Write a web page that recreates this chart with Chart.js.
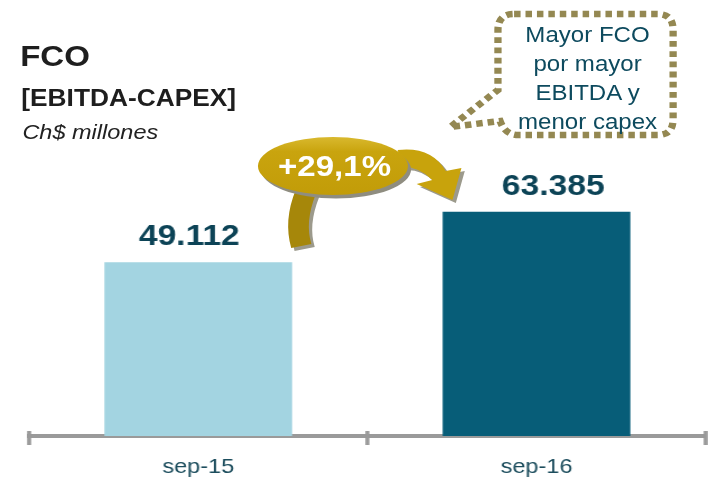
<!DOCTYPE html>
<html lang="es">
<head>
<meta charset="UTF-8">
<title>FCO</title>
<script src="https://cdn.jsdelivr.net/npm/chart.js"></script>
<style>
  html, body { margin: 0; padding: 0; background: #fff; overflow: hidden; }
  body { width: 708px; height: 479px; }
  /* the original slide is stretched a bit sideways, so the whole drawing is too */
  #stage { position: relative; width: 632px; height: 479px; transform: scaleX(1.12); transform-origin: 0 0; }
  #chart { position: absolute; left: 0; top: 0; }
  #deco { position: absolute; left: 0; top: 0; pointer-events: none; font-family: "Liberation Sans", Arial, sans-serif; }
</style>
</head>
<body>
<div id="stage">
  <canvas id="chart" width="632" height="479"></canvas>
  <svg id="deco" width="632" height="479" viewBox="0 0 632 479">
    <defs>
      <linearGradient id="gold" x1="0" y1="0" x2="0" y2="1">
        <stop offset="0" stop-color="#d9b92e"/>
        <stop offset="0.25" stop-color="#c9a40e"/>
        <stop offset="1" stop-color="#c29c08"/>
      </linearGradient>
    </defs>

    <!-- titles -->
    <text x="18" y="66" font-size="29.5" font-weight="bold" fill="#1e1e1e" id="t1"></text>
    <text x="19" y="106" font-size="23.5" font-weight="bold" fill="#1e1e1e" id="t2"></text>
    <text x="20" y="139" font-size="21" font-style="italic" fill="#222" id="t3"></text>

    <!-- growth arrow -->
    <path d="M 267,193 Q 256,223 263,251 L 281,247 Q 275,225 285,197 Z" fill="#9c9a8c"/>
    <path d="M 264,190 Q 253,220 260,248 L 278,244 Q 272,222 282,194 Z" fill="#a6870a"/>
    <path d="M 358,153 Q 388,149 401,174 L 415,171 L 407,203 L 375,187 L 389,183 Q 378,170 363,170 Z" fill="#9c9a8c"/>
    <path d="M 355,150 Q 385,146 398,171 L 412,168 L 404,200 L 372,184 L 386,180 Q 375,167 360,167 Z" fill="#c8a30c"/>
    <ellipse cx="300" cy="169.5" rx="67" ry="29" fill="#8f8d80"/>
    <ellipse cx="297.3" cy="166" rx="67" ry="29" fill="url(#gold)"/>
    <text x="298.7" y="176" font-size="29.5" font-weight="bold" fill="#ffffff" text-anchor="middle" id="chg"></text>

    <!-- callout -->
    <path d="M 459,14 H 587 Q 601,14 601,30 V 119 Q 601,135 587,135 H 463 Q 451,135 446.5,121 L 402,127 L 444.6,90 V 30 Q 444.6,14 459,14 Z"
          fill="none" stroke="#948852" stroke-width="6.5" stroke-dasharray="5.8 4.4"/>
    <g id="callout" font-size="21.5" fill="#0d4a5e" text-anchor="middle"></g>
  </svg>
</div>
<script>
// data
var categories = ["sep-15", "sep-16"];
var fcoValues = [49112, 63385];
var barColors = ["#a3d4e1", "#075d78"];
var changeLabel = "+29,1%";
var titleLines = ["FCO", "[EBITDA-CAPEX]", "Ch$ millones"];
var calloutLines = ["Mayor FCO", "por mayor", "EBITDA y", "menor capex"];

// value labels sit a little off-centre in the reference
var labelShift = [-8, 15];
var fontFamily = '"Liberation Sans", Arial, sans-serif';

document.getElementById("t1").textContent = titleLines[0];
document.getElementById("t2").textContent = titleLines[1];
document.getElementById("t3").textContent = titleLines[2];
document.getElementById("chg").textContent = changeLabel;

var callout = document.getElementById("callout");
calloutLines.forEach(function(line, i) {
    var t = document.createElementNS("http://www.w3.org/2000/svg", "text");
    t.setAttribute("x", 524.6);
    t.setAttribute("y", 42 + i * 29);
    t.textContent = line;
    callout.appendChild(t);
});

function formatThousands(v) {
    return String(v).replace(/\B(?=(\d{3})+(?!\d))/g, ".");
}

// numbers above the bars
var valueLabels = {
    id: "valueLabels",
    afterDatasetsDraw: function(chart) {
        var ctx = chart.ctx;
        var meta = chart.getDatasetMeta(0);
        ctx.save();
        ctx.font = "bold 30px " + fontFamily;
        ctx.fillStyle = "#0c4356";
        ctx.textAlign = "center";
        ctx.textBaseline = "alphabetic";
        meta.data.forEach(function(bar, i) {
            ctx.fillText(formatThousands(fcoValues[i]), bar.x + labelShift[i], bar.y - 17);
        });
        ctx.restore();
    }
};

// short tick marks crossing the axis line at the category edges
var axisTicks = {
    id: "axisTicks",
    afterDraw: function(chart) {
        var ctx = chart.ctx;
        var area = chart.chartArea;
        var x = chart.scales.x;
        var mid = (x.getPixelForValue(0) + x.getPixelForValue(1)) / 2;
        ctx.save();
        ctx.strokeStyle = "#9a9a9a";
        ctx.lineWidth = 3.6;
        [area.left, mid, area.right].forEach(function(px) {
            ctx.beginPath();
            ctx.moveTo(px, area.bottom - 5);
            ctx.lineTo(px, area.bottom + 9);
            ctx.stroke();
        });
        ctx.restore();
    }
};

new Chart(document.getElementById("chart").getContext("2d"), {
    type: "bar",
    data: {
        labels: categories,
        datasets: [{
            data: fcoValues,
            backgroundColor: barColors,
            borderWidth: 0,
            barPercentage: 0.555,
            categoryPercentage: 1
        }]
    },
    options: {
        responsive: false,
        animation: false,
        devicePixelRatio: 1,
        layout: { padding: { left: 26, right: 2, top: 153, bottom: 0 } },
        plugins: { legend: { display: false }, tooltip: { enabled: false } },
        scales: {
            x: {
                grid: { display: false, drawTicks: false },
                border: { color: "#9a9a9a", width: 4 },
                ticks: { color: "#1c4d5d", padding: 19, font: { family: fontFamily, size: 21 } },
                afterFit: function(scale) { scale.height = 43; }
            },
            y: { display: false, min: 0, max: 80000 }
        }
    },
    plugins: [valueLabels, axisTicks]
});
</script>
</body>
</html>
